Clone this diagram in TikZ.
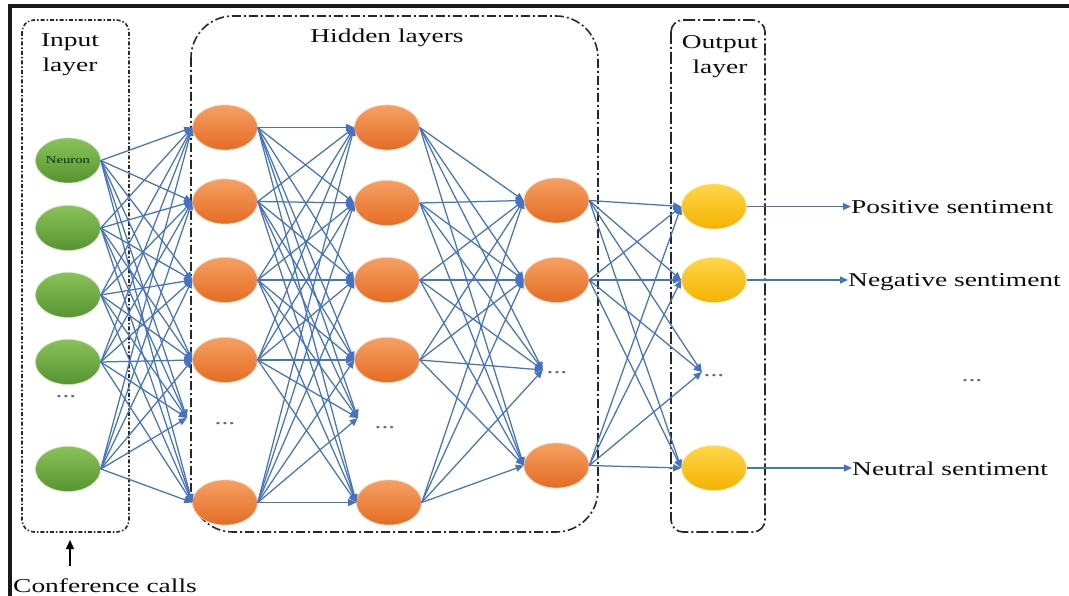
\documentclass[tikz,border=0pt]{standalone}
\usepackage{fontspec}
\setmainfont{Liberation Serif}[FakeStretch=1.4]
\usetikzlibrary{arrows.meta,shapes.geometric}

\definecolor{edgeblue}{RGB}{68,114,196}
\definecolor{boxline}{RGB}{40,40,40}
\definecolor{gtop}{RGB}{138,194,90}
\definecolor{gbot}{RGB}{86,148,48}
\definecolor{otop}{RGB}{246,160,98}
\definecolor{obot}{RGB}{228,108,36}
\definecolor{ytop}{RGB}{255,214,72}
\definecolor{ybot}{RGB}{244,178,0}

\tikzset{
  neuron/.style={ellipse, minimum width=65pt, minimum height=45pt, inner sep=0pt, line width=0.6pt},
  inneuron/.style={neuron, top color=gtop, bottom color=gbot, draw=gtop!50!white},
  hidneuron/.style={neuron, top color=otop, bottom color=obot, draw=otop!50!white},
  outneuron/.style={neuron, top color=ytop, bottom color=ybot, draw=ytop!50!white},
  tgt/.style={inner sep=0pt, minimum size=0pt},
  conn/.style={edgeblue, line width=1.25pt, -{Triangle[length=8pt,width=7pt]}},
  gap/.style={text=black!60, inner sep=0pt, font=\fontsize{19.6}{20}\selectfont},
  lab/.style={text=black!95, inner sep=0pt, font=\fontsize{19.6}{25}\selectfont},
  inbox/.style={draw=boxline, line width=1.6pt, rounded corners=12pt,
    dash pattern=on 4pt off 2pt on 1.5pt off 2pt},
  hidbox/.style={draw=boxline, line width=1.6pt, rounded corners=42pt,
    dash pattern=on 9pt off 3pt on 2pt off 3pt},
  outbox/.style={draw=boxline, line width=1.6pt, rounded corners=12pt,
    dash pattern=on 12pt off 3pt on 2pt off 3pt},
}

\begin{document}
\begin{tikzpicture}[x=1pt, y=-1pt]
  \useasboundingbox (0,0) rectangle (1069,596);
  \fill[white] (0,0) rectangle (1069,596);

  % page frame
  \draw[line width=3.4pt, black!90] (1075,6) -- (10,6) -- (10,600);

  % layer boxes
  \draw[inbox]  (22,20)  rectangle (129,532);
  \draw[hidbox] (191,16) rectangle (598,532);
  \draw[outbox] (671,20) rectangle (765,532);

  % layer titles
  \node[lab, align=center] (tin) at (70,55) {Input\\layer};
  \node[lab, anchor=base] (thid) at (387,43) {Hidden layers};
  \node[lab, align=center] (tout) at (720,57) {Output\\layer};

  % input layer
  \node[inneuron] (i1) at (68,160.5) {\fontsize{10.5}{11}\selectfont\color{black!80!green}Neuron};
  \node[inneuron] (i2) at (68,228) {};
  \node[inneuron] (i3) at (68,295) {};
  \node[inneuron] (i4) at (68,362) {};
  \node[inneuron] (i5) at (68,469) {};
  \node[gap] (idots) at (66,397) {...};

  % first hidden layer
  \node[hidneuron] (a1) at (225,127.5) {};
  \node[hidneuron] (a2) at (225,201.5) {};
  \node[hidneuron] (a3) at (225,280) {};
  \node[hidneuron] (a4) at (225,360) {};
  \node[hidneuron] (a5) at (225,502.5) {};
  \node[gap] (adots) at (225,424) {...};
  \node[tgt] (ad) at (187,418) {};

  % second hidden layer
  \node[hidneuron] (b1) at (387,127.5) {};
  \node[hidneuron] (b2) at (387,203) {};
  \node[hidneuron] (b3) at (387,280) {};
  \node[hidneuron] (b4) at (387,360) {};
  \node[hidneuron] (b5) at (389,502.5) {};
  \node[gap] (bdots) at (385,428) {...};
  \node[tgt] (bd) at (358,418) {};

  % third hidden layer
  \node[hidneuron] (c1) at (556.5,200.5) {};
  \node[hidneuron] (c2) at (556.5,280) {};
  \node[hidneuron] (c3) at (556.5,465.5) {};
  \node[gap] (cdots) at (557,373) {...};
  \node[tgt] (cd) at (543,370) {};

  % output layer
  \node[outneuron] (o1) at (714,206.5) {};
  \node[outneuron] (o2) at (714,280) {};
  \node[outneuron] (o3) at (714,468) {};
  \node[gap] (odots) at (714,376) {...};
  \node[tgt] (od) at (702,372) {};

  \node[gap] (rdots) at (972,381) {...};

  % fully connected links
  \foreach \s in {i1,i2,i3,i4,i5}
    \foreach \t in {a1,a2,a3,a4,a5,ad}
      \draw[conn] (\s.east) -- (\t.west);
  \foreach \s in {a1,a2,a3,a4,a5}
    \foreach \t in {b1,b2,b3,b4,b5,bd}
      \draw[conn] (\s.east) -- (\t.west);
  \foreach \s in {b1,b2,b3,b4,b5}
    \foreach \t in {c1,c2,c3,cd}
      \draw[conn] (\s.east) -- (\t.west);
  \foreach \s in {c1,c2,c3}
    \foreach \t in {o1,o2,o3,od}
      \draw[conn] (\s.east) -- (\t.west);

  % outputs
  \node[lab, anchor=base west] (lpos) at (851,213.5) {Positive sentiment};
  \node[lab, anchor=base west] (lneg) at (848,287) {Negative sentiment};
  \node[lab, anchor=base west] (lneu) at (852,475) {Neutral sentiment};
  \draw[conn] (o1.east) -- (o1.east -| lpos.west);
  \draw[conn] (o2.east) -- (o2.east -| lneg.west);
  \draw[conn] (o3.east) -- (o3.east -| lneu.west);

  % data source
  \node[lab, anchor=base west] (conf) at (13,592) {Conference calls};
  \coordinate (ctip) at (70,540);
  \draw[black, line width=1.4pt, -{Triangle[length=9pt,width=8pt]}]
    ([yshift=12pt]conf.north -| ctip) -- (ctip);
\end{tikzpicture}
\end{document}
